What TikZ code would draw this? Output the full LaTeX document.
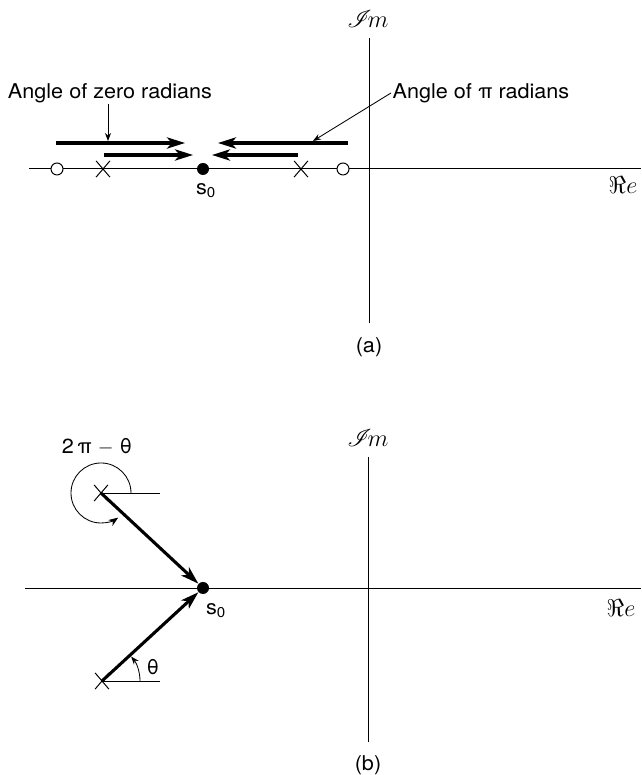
\documentclass[tikz,border=0pt]{standalone}
\usepackage{amsmath}
\usepackage{amssymb}
\usepackage{mathrsfs}
\usepackage{fontspec}
\setmainfont{TeX Gyre Heros}[FakeStretch=1.06]
\usetikzlibrary{positioning,arrows.meta,shapes.misc}
\newcommand{\ImLbl}{\fontsize{18}{20}\selectfont$\mathscr{I}\!m$}
\newcommand{\ReLbl}{\fontsize{18}{20}\selectfont$\Re e$}

\begin{document}
\begin{tikzpicture}[
  x=0.025cm, y=0.025cm,
  >={Stealth[length=2mm,width=1.5mm]},
  font=\fontsize{14.5}{17}\selectfont,
  axis/.style   ={line width=0.7pt},
  pole/.style   ={draw, cross out, line width=0.7pt, minimum width=3.2mm,
                  minimum height=3.8mm, inner sep=0pt},
  zero/.style   ={draw, circle, line width=0.7pt, minimum size=3mm,
                  inner sep=0pt, fill=white},
  spt/.style    ={circle, fill, minimum size=3mm, inner sep=0pt},
  heavy/.style  ={line width=2.2pt, -{Stealth[length=4.5mm,width=2.8mm,inset=1.2mm]}},
  lead/.style   ={->, line width=0.6pt},
  reflin/.style ={line width=0.6pt},
  lbl/.style    ={inner sep=1pt}
]
\useasboundingbox (0,0) rectangle (641,775);

% --- (a): axes ---
\coordinate (aimtop) at (369,737);
\coordinate (aimbot) at (369,452);
\coordinate (arel)   at (29,606);
\coordinate (arer)   at (641,606);
\draw[axis] (arel) -- (arer);
\draw[axis] (aimtop) -- (aimbot);
\node[lbl] (aim) at (368,756) {\ImLbl};
\node[lbl] (are) at (623,590) {\ReLbl};

% --- (a): zeros, poles, s0 ---
\node[zero] (za1) at (57,606)  {};
\node[zero] (za2) at (343,606) {};
\node[pole] (pa1) at (103,606) {};
\node[pole] (pa2) at (301,606) {};
\node[spt]  (sa)  at (203,606) {};
\node[lbl]  (sal) at (206,584) {s\textsubscript{0}};

% --- (a): angle arrows ---
\coordinate (ura) at (56,632);  \coordinate (urb) at (185,632);
\coordinate (lra) at (104,620); \coordinate (lrb) at (193,620);
\coordinate (ula) at (348,632); \coordinate (ulb) at (218,632);
\coordinate (lla) at (298,620); \coordinate (llb) at (212,620);
\draw[heavy] (ura) -- (urb);
\draw[heavy] (lra) -- (lrb);
\draw[heavy] (ula) -- (ulb);
\draw[heavy] (lla) -- (llb);

\node[lbl] (zerotxt) at (110,682) {Angle of zero radians};
\node[lbl, anchor=west] (pitxt) at (391,682) {Angle of π radians};
\coordinate (zerotip) at (108,634);
\coordinate (pitip)   at (313,634);
\draw[lead] (zerotxt.south -| zerotip) -- (zerotip);
\draw[lead] (pitxt.west) -- (pitip);

\node[lbl] (capa) at (369,428) {(a)};

% --- (b): axes ---
\coordinate (bimtop) at (368,318);
\coordinate (bimbot) at (368,33);
\coordinate (brel)   at (25,187);
\coordinate (brer)   at (641,187);
\draw[axis] (brel) -- (brer);
\draw[axis] (bimtop) -- (bimbot);
\node[lbl] (bim) at (368,337) {\ImLbl};
\node[lbl] (bre) at (621,167) {\ReLbl};

% --- (b): poles, s0, vectors ---
\node[spt]  (sb)  at (203,187) {};
\node[lbl]  (sbl) at (216,164) {s\textsubscript{0}};
\node[pole] (qb1) at (101,282) {};
\node[pole] (qb2) at (102,94)  {};
\coordinate (qb1r) at (160,282);
\coordinate (qb2r) at (160,94);
\draw[reflin] (qb1.center) -- (qb1r);
\draw[reflin] (qb2.center) -- (qb2r);
\draw[heavy] (qb1.center) -- (sb);
\draw[heavy] (qb2.center) -- (sb);

% angle arcs
\draw[reflin, -{Stealth[length=2.4mm,width=1.8mm]}] ([shift={(0:0.75cm)}]qb1.center)
  arc[start angle=0, end angle=305, radius=0.75cm];
\draw[reflin, ->] ([shift={(0:0.95cm)}]qb2.center) arc[start angle=0, end angle=40, radius=0.95cm];
\node[lbl] (twopi) at (97,328) {2\,π $-$ θ};
\node[lbl] (theta) at (153,108) {θ};

\node[lbl] (capb) at (368,10) {(b)};

\end{tikzpicture}
\end{document}
